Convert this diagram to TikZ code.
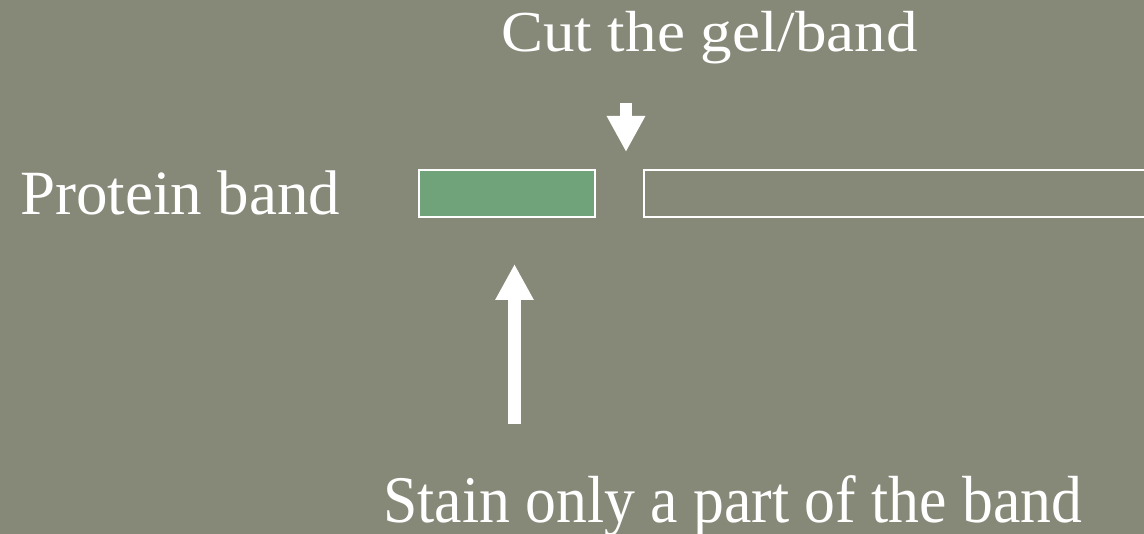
\documentclass[tikz,border=0pt]{standalone}
\usepackage{fontspec}
\setmainfont{Liberation Serif}
\usetikzlibrary{arrows.meta}
\definecolor{slate}{RGB}{135,137,120}
\definecolor{bandgreen}{RGB}{112,163,121}
\tikzset{
  label text/.style={text=white, inner sep=0pt, anchor=base west},
  bandbox/.style={draw=white, line width=2pt, inner sep=0pt},
  bigarrow/.style={draw=white, line width=12.5pt,
    -{Triangle[width=36pt,length=36pt]}}
}
\begin{document}
\begin{tikzpicture}[x=1pt,y=-1pt]
  \fill[slate] (0,0) rectangle (1144,534);
  \useasboundingbox (0,0) rectangle (1144,534);

  % captions
  \node[label text, font=\fontsize{63}{70}\selectfont, yscale=0.92] (cut) at (501,52) {Cut the gel/band};
  \node[label text, font=\fontsize{63}{70}\selectfont] (prot) at (20,215) {Protein band};
  \node[label text, font=\fontsize{61.7}{70}\selectfont, yscale=1.08] (stain) at (383,522) {Stain only a part of the band};

  % the stained piece and the rest of the band
  \node[bandbox, fill=bandgreen, minimum width=176pt, minimum height=47pt, anchor=north west] (piece) at (418,169) {};
  \node[bandbox, minimum width=520pt, minimum height=47pt, anchor=north west] (rest) at (643,169) {};

  % arrows
  \coordinate (cuttop) at (626,103);
  \coordinate (cuttip) at (626,152);
  \coordinate (stainbot) at (514.5,424);
  \coordinate (staintip) at (514.5,264);
  \draw[bigarrow] (cuttop) -- (cuttip);
  \draw[bigarrow] (stainbot) -- (staintip);
\end{tikzpicture}
\end{document}
